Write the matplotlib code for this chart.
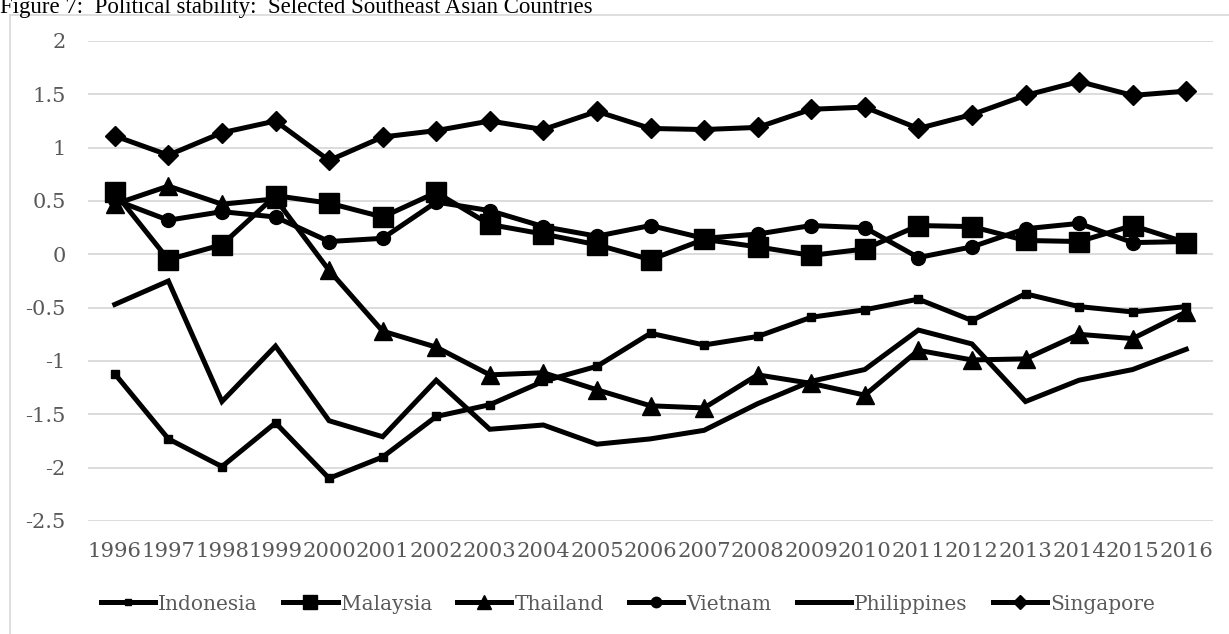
import matplotlib
matplotlib.use("Agg")
import matplotlib.pyplot as plt
from matplotlib.lines import Line2D

# political stability index, 1996-2016
years = [str(y) for y in range(1996, 2017)]

indonesia = [-1.12, -1.73, -1.99, -1.58, -2.10, -1.90, -1.52, -1.41, -1.19, -1.05,
             -0.74, -0.85, -0.77, -0.59, -0.52, -0.42, -0.62, -0.37, -0.49, -0.54, -0.49]
malaysia = [0.58, -0.05, 0.09, 0.55, 0.48, 0.35, 0.58, 0.28, 0.19, 0.09,
            -0.05, 0.14, 0.07, -0.01, 0.05, 0.27, 0.26, 0.13, 0.12, 0.27, 0.11]
thailand = [0.47, 0.64, 0.47, 0.52, -0.15, -0.72, -0.87, -1.13, -1.11, -1.27,
            -1.42, -1.44, -1.13, -1.21, -1.32, -0.90, -0.99, -0.98, -0.75, -0.79, -0.54]
vietnam = [0.51, 0.32, 0.40, 0.35, 0.12, 0.15, 0.49, 0.41, 0.26, 0.17,
           0.27, 0.15, 0.19, 0.27, 0.25, -0.03, 0.07, 0.24, 0.29, 0.11, 0.12]
philippines = [-0.47, -0.25, -1.38, -0.86, -1.56, -1.71, -1.18, -1.64, -1.60, -1.78,
               -1.73, -1.65, -1.40, -1.19, -1.08, -0.71, -0.84, -1.38, -1.18, -1.08, -0.89]
singapore = [1.11, 0.93, 1.14, 1.25, 0.88, 1.10, 1.16, 1.25, 1.17, 1.34,
             1.18, 1.17, 1.19, 1.36, 1.38, 1.18, 1.31, 1.49, 1.62, 1.49, 1.53]

series = [
    ("Indonesia", indonesia, "s", 6),
    ("Malaysia", malaysia, "s", 14),
    ("Thailand", thailand, "^", 13),
    ("Vietnam", vietnam, "o", 10),
    ("Philippines", philippines, None, 0),
    ("Singapore", singapore, "D", 10),
]

W, H = 1229, 634
fig = plt.figure(figsize=(W / 100, H / 100), dpi=100)

# chart frame and caption above it
frame_col = "#d9d9d9"
fig.add_artist(Line2D([10 / W, 1.01], [1 - 15 / H] * 2, color=frame_col, lw=1.2))
fig.add_artist(Line2D([10 / W] * 2, [-0.01, 1 - 15 / H], color=frame_col, lw=1.2))
fig.text(0.0, 1 - 13 / H, "Figure 7:  Political stability:  Selected Southeast Asian Countries",
         family="Liberation Serif", fontsize=16.5, va="baseline", ha="left")

ax = fig.add_axes([88 / W, 1 - 521 / H, (1213 - 88) / W, (521 - 41) / H])
x = list(range(len(years)))
for name, vals, mk, ms in series:
    ax.plot(x, vals, color="black", lw=3.6, marker=mk, ms=ms,
            solid_joinstyle="miter", label=name, zorder=3)

ax.set_xlim(-0.5, len(years) - 0.5)
ax.set_ylim(-2.5, 2)
ax.set_yticks([2, 1.5, 1, 0.5, 0, -0.5, -1, -1.5, -2, -2.5])
ax.set_yticklabels(["2", "1.5", "1", "0.5", "0", "-0.5", "-1", "-1.5", "-2", "-2.5"])
ax.set_xticks(x)
ax.set_xticklabels(years, fontsize=15.2)
ax.grid(axis="y", color=frame_col, lw=1.3, zorder=0)
for s in ax.spines.values():
    s.set_visible(False)
ax.tick_params(axis="both", length=0, colors="#595959")
ax.tick_params(axis="y", pad=16, labelsize=15)
ax.tick_params(axis="x", pad=15)
for lab in ax.get_xticklabels() + ax.get_yticklabels():
    lab.set_family("DejaVu Serif")

leg = ax.legend(loc="center", bbox_to_anchor=(628 / W, 1 - 604 / H),
                bbox_transform=fig.transFigure, ncol=6, frameon=False,
                prop={"family": "DejaVu Serif", "size": 14.5},
                handlelength=2.7, handletextpad=0.15, columnspacing=1.25,
                markerscale=0.75)
for t in leg.get_texts():
    t.set_color("#595959")

fig.savefig("out.png", dpi=100)
